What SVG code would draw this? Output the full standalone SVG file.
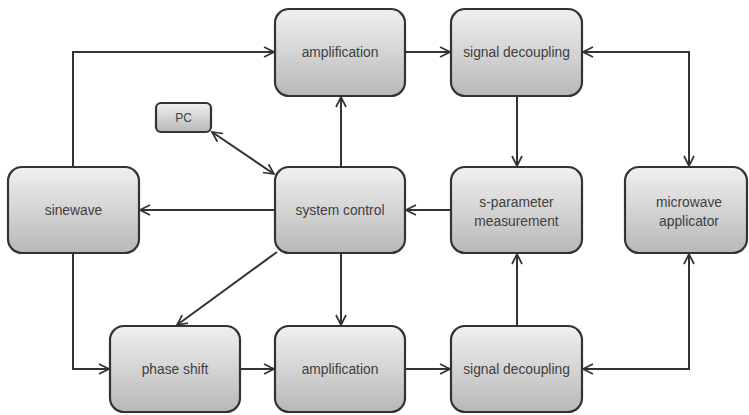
<svg xmlns="http://www.w3.org/2000/svg" width="749" height="415" viewBox="0 0 749 415">
<defs>
<linearGradient id="g" x1="0" y1="0" x2="0" y2="1">
<stop offset="0" stop-color="#f0f0f0"/>
<stop offset="1" stop-color="#b8b8b8"/>
</linearGradient>
<marker id="a" viewBox="0 0 12 12" refX="11" refY="6" markerWidth="12" markerHeight="12" markerUnits="userSpaceOnUse" orient="auto-start-reverse">
<path d="M1,1 L11,6 L1,11" fill="none" stroke="#333" stroke-width="1.7"/>
</marker>
</defs>
<style>
.box{fill:url(#g);stroke:#333;stroke-width:2.2}
.t{font-family:"Liberation Sans",Arial,sans-serif;font-size:13.8px;fill:#404040;text-anchor:middle}
.c{fill:none;stroke:#333;stroke-width:2}
</style>
<rect width="749" height="415" fill="#fff"/>
<g id="connectors">
<path class="c" d="M73,167 V52 H274" marker-end="url(#a)"/>
<path class="c" d="M405,52 H450" marker-end="url(#a)"/>
<path class="c" d="M583,52 H689 V166" marker-start="url(#a)" marker-end="url(#a)"/>
<path class="c" d="M517,96 V166" marker-end="url(#a)"/>
<path class="c" d="M451,210 H406" marker-end="url(#a)"/>
<path class="c" d="M275,210 H140" marker-end="url(#a)"/>
<path class="c" d="M341,167 V97" marker-end="url(#a)"/>
<path class="c" d="M212,132 L274,174" marker-start="url(#a)" marker-end="url(#a)"/>
<path class="c" d="M277,252 L177,325" marker-end="url(#a)"/>
<path class="c" d="M341,253 V325" marker-end="url(#a)"/>
<path class="c" d="M73,253 V369 H109" marker-end="url(#a)"/>
<path class="c" d="M240,369 H274" marker-end="url(#a)"/>
<path class="c" d="M405,369 H450" marker-end="url(#a)"/>
<path class="c" d="M517,326 V254" marker-end="url(#a)"/>
<path class="c" d="M583,369 H689 V254" marker-start="url(#a)" marker-end="url(#a)"/>
</g>
<g id="amp-top"><rect class="box" x="275" y="9" width="130" height="87" rx="14"/><text class="t" x="340" y="57">amplification</text></g>
<g id="sd-top"><rect class="box" x="451" y="9" width="131" height="87" rx="14"/><text class="t" x="516.5" y="57">signal decoupling</text></g>
<g id="pc"><rect class="box" x="156" y="103" width="55" height="29" rx="5"/><text class="t" x="183.5" y="122" style="font-size:12px">PC</text></g>
<g id="sinewave"><rect class="box" x="8" y="167" width="131" height="86" rx="14"/><text class="t" x="73.5" y="215">sinewave</text></g>
<g id="system-control"><rect class="box" x="275" y="167" width="130" height="86" rx="14"/><text class="t" x="340" y="215">system control</text></g>
<g id="s-param"><rect class="box" x="451" y="167" width="131" height="86" rx="14"/><text class="t" x="516.5" y="207">s-parameter</text><text class="t" x="516.5" y="226">measurement</text></g>
<g id="microwave"><rect class="box" x="625" y="167" width="122" height="86" rx="14"/><text class="t" x="689" y="207">microwave</text><text class="t" x="689" y="226">applicator</text></g>
<g id="phase-shift"><rect class="box" x="110" y="326" width="130" height="86" rx="14"/><text class="t" x="175" y="374">phase shift</text></g>
<g id="amp-bottom"><rect class="box" x="275" y="326" width="130" height="86" rx="14"/><text class="t" x="340" y="374">amplification</text></g>
<g id="sd-bottom"><rect class="box" x="451" y="326" width="131" height="86" rx="14"/><text class="t" x="516.5" y="374">signal decoupling</text></g>
</svg>
